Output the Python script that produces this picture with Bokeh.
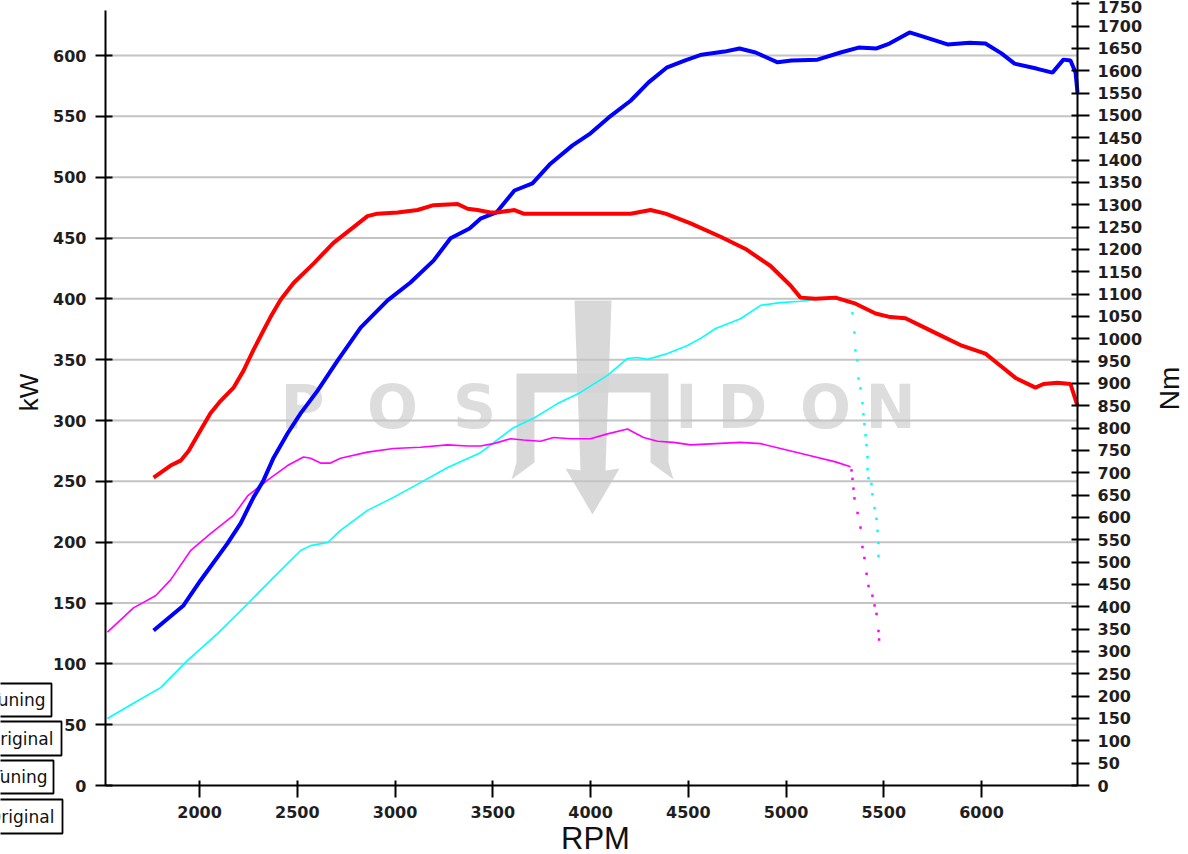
import math
from bokeh.plotting import figure
from bokeh.models import Range1d, LinearAxis, FixedTicker, Label, PolyAnnotation, BoxAnnotation
from bokeh.embed import file_html
from bokeh.resources import INLINE

# ---------------- data ----------------
rpm_tuning_kw = [1765, 1852, 1903, 1944, 2005, 2056, 2107, 2174, 2225, 2276, 2327, 2363, 2414, 2481,
                 2583, 2685, 2788, 2859, 2910, 3013, 3115, 3197, 3320, 3371, 3422, 3488, 3519, 3611,
                 3657, 3693, 3847, 4000, 4205, 4307, 4384, 4512, 4665, 4793, 4921, 5023, 5074, 5151,
                 5253, 5356, 5458, 5534, 5611, 5688, 5790, 5892, 6020, 6097, 6174, 6276, 6317, 6389,
                 6455, 6491]
kw_tuning = [253, 263, 267, 275, 292, 306, 316, 327, 341, 358, 374, 385, 399, 413,
             429, 446, 459, 468, 470, 471, 473, 477, 478, 474, 473, 471, 471, 473,
             470, 470, 470, 470, 470, 473, 470, 462, 451, 441, 427, 411, 401, 400,
             401, 396, 388, 385, 384, 378, 370, 362, 355, 345, 335, 327, 330, 331,
             330, 312]

rpm_tuning_nm = [1765, 1918, 2005, 2143, 2210, 2276, 2327, 2379, 2450, 2517, 2604, 2706, 2824, 2962,
                 3079, 3197, 3284, 3381, 3437, 3519, 3611, 3703, 3795, 3908, 4000, 4092, 4205, 4297,
                 4389, 4481, 4568, 4685, 4762, 4844, 4957, 5028, 5161, 5279, 5371, 5463, 5529, 5632,
                 5714, 5826, 5939, 6020, 6102, 6169, 6281, 6363, 6419, 6455, 6481, 6491]
nm_tuning = [347, 403, 459, 542, 587, 645, 683, 734, 788, 833, 884, 951, 1025, 1086,
             1126, 1175, 1225, 1247, 1269, 1283, 1332, 1348, 1392, 1433, 1460, 1495, 1533, 1574,
             1607, 1623, 1636, 1643, 1650, 1641, 1619, 1623, 1625, 1641, 1652, 1650, 1661, 1686,
             1675, 1659, 1663, 1661, 1639, 1616, 1605, 1596, 1625, 1623, 1596, 1551]

rpm_original_kw = [1529, 1662, 1775, 1852, 1954, 2056, 2174, 2246, 2348, 2450, 2532, 2568, 2619, 2670,
                   2721, 2859, 2992, 3130, 3269, 3371, 3437, 3504, 3591, 3657, 3744, 3811, 3898, 4000,
                   4087, 4189, 4271, 4343, 4425, 4512, 4767, 4870, 4972, 5125, 5253, 5330]
kw_original = [126, 146, 156, 169, 193, 207, 222, 238, 251, 263, 270, 269, 265, 265,
               269, 274, 277, 278, 280, 279, 279, 281, 285, 284, 283, 286, 285, 285,
               289, 293, 286, 283, 282, 280, 282, 281, 277, 271, 266, 262]
rpm_original_kw_tail = [5335, 5340, 5345, 5350, 5366, 5381, 5391, 5401, 5412, 5422, 5442, 5453, 5463,
                        5473, 5476]
kw_original_tail = [259, 252, 244, 236, 224, 212, 196, 187, 174, 164, 156, 148, 141, 127, 120]

rpm_original_nm = [1529, 1662, 1801, 1939, 2092, 2246, 2379, 2517, 2568, 2655, 2721, 2859, 2992, 3130,
                   3269, 3437, 3606, 3708, 3831, 3949, 4087, 4189, 4240, 4292, 4394, 4496, 4563, 4640,
                   4767, 4870, 4972, 5074, 5176, 5279, 5320]
nm_original = [150, 184, 219, 280, 340, 407, 466, 526, 537, 544, 571, 616, 645, 678,
               712, 745, 801, 822, 855, 880, 918, 956, 958, 954, 967, 985, 1001, 1023,
               1045, 1075, 1081, 1084, 1090, 1090, 1080]
rpm_original_nm_tail = [5340, 5350, 5355, 5365, 5371, 5381, 5391, 5396, 5401, 5407, 5412, 5417, 5417,
                        5422, 5437, 5442, 5453, 5463, 5468, 5473, 5473]
nm_original_tail = [1057, 1014, 974, 952, 911, 889, 856, 831, 809, 784, 762, 735, 708,
                    688, 675, 652, 621, 597, 570, 543, 514]

x_ticks = [2000, 2500, 3000, 3500, 4000, 4500, 5000, 5500, 6000]
kw_ticks = list(range(0, 601, 50))
nm_ticks = list(range(0, 1751, 50))
legend_labels = ["Tuning", "Original", "Tuning", "Original"]
x_label, kw_label, nm_label = "RPM", "kW", "Nm"

# ---------------- layout ----------------
W, H = 1188, 854
X0, X1 = 1519, 6491          # rpm at the left / right axis
KW_MAX, NM_MAX = 637, 1735   # values at the top of the axes
FL, FR, FT, FB = 105, 1077, 10, 785   # axis box edges in canvas pixels
SX = (X1 - X0) / (FR - FL)
SY = KW_MAX / (FB - FT)
R = NM_MAX / KW_MAX


def dx(px):
    return X0 + (px - FL) * SX


def dy(py):
    return (FB - py) * SY


p = figure(width=W, height=H, output_backend="svg", toolbar_location=None,
           x_range=Range1d(dx(0), dx(W)), y_range=Range1d(dy(H), dy(0)),
           x_axis_location=None, y_axis_location=None, min_border=0)
p.extra_y_ranges = {"nm": Range1d(dy(H) * R, dy(0) * R)}
p.outline_line_color = None
p.background_fill_color = "white"
p.border_fill_color = "white"
p.grid.visible = False

left = LinearAxis(fixed_location=X0, bounds=(0, KW_MAX), ticker=FixedTicker(ticks=kw_ticks))
right = LinearAxis(y_range_name="nm", fixed_location=X1, bounds=(0, dy(0) * R),
                   ticker=FixedTicker(ticks=nm_ticks))
bottom = LinearAxis(fixed_location=0, bounds=(X0, X1), ticker=FixedTicker(ticks=x_ticks))
p.add_layout(left, "left")
p.add_layout(right, "right")
p.add_layout(bottom, "below")

for ax in [bottom, left, right]:
    ax.axis_line_color = "black"
    ax.axis_line_width = 2
    ax.major_tick_line_color = "black"
    ax.major_tick_line_width = 2
    ax.minor_tick_line_color = None
    ax.major_label_text_font = "DejaVu Sans"
    ax.major_label_text_font_size = "16px"
    ax.major_label_text_font_style = "bold"
    ax.major_label_text_color = "#1e1e1e"

left.major_tick_out = 10
left.major_tick_in = 7
left.major_label_standoff = 9
right.major_tick_out = 12
right.major_tick_in = 6
right.major_label_standoff = 8
bottom.major_tick_out = 12
bottom.major_tick_in = 5
bottom.major_label_standoff = 8

# ---------------- watermark ----------------
wm_color = "#d4d4d4"
trident_shaft = [(574, 300), (611, 300), (605, 470), (619, 468), (592, 514), (565, 468), (580, 470)]
trident_fork = [(516, 373), (668, 373), (668, 462), (673, 479), (650, 462), (650, 392), (534, 392),
                (534, 462), (511, 479), (516, 462)]
for shape in (trident_fork, trident_shaft):
    p.add_layout(PolyAnnotation(xs=[dx(a) for a, b in shape], ys=[dy(b) for a, b in shape],
                                fill_color=wm_color, fill_alpha=0.9, line_color=None,
                                level="underlay"))
for ch, cx in zip("POSIDON", [302, 392, 474, 686, 742, 825, 890]):
    p.add_layout(Label(x=dx(cx), y=dy(406), text=ch, text_align="center", text_baseline="middle",
                       text_font="DejaVu Sans", text_font_style="bold", text_font_size="60px",
                       text_color="#dddddd", level="underlay"))

# ---------------- grid (at the kW ticks, between the two axes) ----------------
grid_y = kw_ticks[1:]
p.segment(x0=[X0] * len(grid_y), y0=grid_y, x1=[X1] * len(grid_y), y1=grid_y,
          line_color="#c4c4c4", line_width=2)

# ---------------- series ----------------
p.line(rpm_original_nm, nm_original, y_range_name="nm", line_color="#00ffff", line_width=1.6)
p.scatter(rpm_original_nm_tail, nm_original_tail, y_range_name="nm", marker="square", size=2.5,
          fill_color="#00ffff", line_color=None)
p.line(rpm_original_kw, kw_original, line_color="#ff00ff", line_width=1.6)
p.scatter(rpm_original_kw_tail, kw_original_tail, marker="square", size=2.5,
          fill_color="#ff00ff", line_color=None)
p.line(rpm_tuning_nm, nm_tuning, y_range_name="nm", line_color="#0000ff", line_width=4)
p.line(rpm_tuning_kw, kw_tuning, line_color="#ff0000", line_width=4)

# ---------------- texts ----------------
p.add_layout(Label(x=dx(595), y=dy(838), text=x_label, text_align="center", text_baseline="middle",
                   text_font="Liberation Sans", text_font_size="31px", text_color="#111111"))
p.add_layout(Label(x=dx(28), y=dy(392), text=kw_label, angle=math.pi / 2, text_align="center",
                   text_baseline="middle", text_font="Liberation Sans", text_font_size="26px",
                   text_color="#111111"))
p.add_layout(Label(x=dx(1169), y=dy(388), text=nm_label, angle=math.pi / 2, text_align="center",
                   text_baseline="middle", text_font="Liberation Sans", text_font_size="28px",
                   text_color="#111111"))

# legend boxes (cut at the left edge, as in the original)
box_right = [51, 61, 53, 62]
box_top = [683, 721, 760, 799]
box_bottom = [716, 755, 793, 833]
text_inset = [6, 8, 6, 8]
for lbl, br, bt, bb, ins in zip(legend_labels, box_right, box_top, box_bottom, text_inset):
    p.add_layout(BoxAnnotation(left=dx(-10), right=dx(br), top=dy(bt), bottom=dy(bb),
                               fill_color="white", fill_alpha=1.0, line_color="black",
                               line_alpha=1.0, line_width=1.8, level="annotation"))
    p.add_layout(Label(x=dx(br - ins), y=dy((bt + bb) / 2), text=lbl, text_align="right",
                       text_baseline="middle", text_font="DejaVu Sans", text_font_size="17px",
                       text_color="#111111", level="annotation"))

open("out.html", "w").write(file_html(p, INLINE))
